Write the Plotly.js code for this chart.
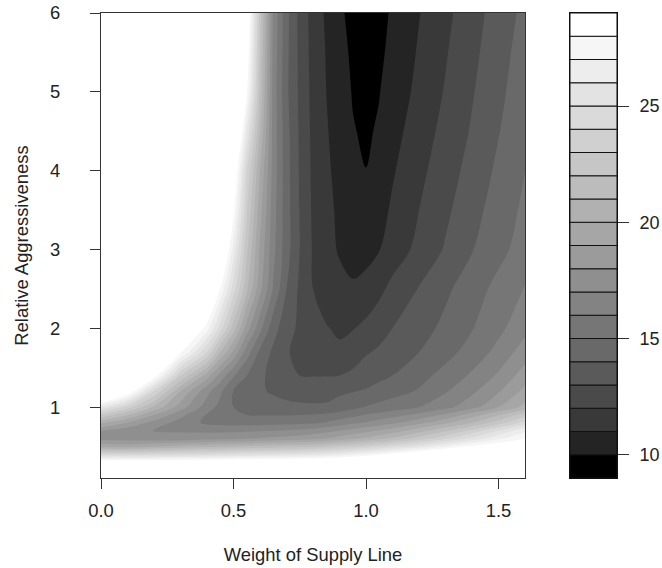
<!DOCTYPE html>
<html><head><meta charset="utf-8">
<script src="https://cdn.plot.ly/plotly-3.0.1.min.js"></script>
<style>html,body{margin:0;padding:0;background:#fff}</style>
</head><body>
<div id="chart" style="width:662px;height:568px"></div>
<script>
// Weight of Supply Line (x) and Relative Aggressiveness (y) grid
const weight = [0, 0.1, 0.2, 0.3, 0.4, 0.45, 0.5, 0.55, 0.6, 0.65, 0.7, 0.75, 0.8, 0.85, 0.9, 0.95, 1.0, 1.05, 1.1, 1.2, 1.3, 1.4, 1.5, 1.6];
const aggressiveness = [0.1, 0.2, 0.3, 0.4, 0.5, 0.6, 0.7, 0.8, 0.9, 1.0, 1.2, 1.4, 1.7, 2.0, 2.5, 3.0, 3.5, 4.0, 4.5, 5.0, 5.5, 6.0];
// values (one row per aggressiveness value)
const cost = [
  [40, 41, 41.5, 42, 42.5, 42.7, 43, 43, 43.2, 43.3, 43.5, 43.6, 43.8, 43.9, 44, 44.2, 44.5, 44.7, 45, 45.5, 46, 47, 48, 49],
  [35, 36, 36.2, 36.4, 36.6, 36.7, 36.8, 36.9, 37, 37.1, 37.2, 37.3, 37.4, 37.6, 37.8, 38, 38.3, 38.5, 38.8, 39.5, 40.3, 41.2, 42.2, 43],
  [29.1, 29.3, 29.3, 29.5, 29.6, 29.7, 29.8, 29.85, 29.9, 29.95, 30.0, 30.05, 30.1, 30.3, 30.7, 31.1, 31.6, 32.0, 32.6, 34, 35, 36, 37, 38],
  [24.1, 24.1, 24.2, 24.4, 24.6, 24.75, 24.9, 25.0, 25.1, 25.2, 25.3, 25.45, 25.6, 25.9, 26.3, 26.7, 27.2, 27.8, 28.5, 29.6, 30.8, 32, 33, 34],
  [19.7, 19.5, 20.0, 20.4, 20.7, 20.85, 21.0, 21.15, 21.3, 21.45, 21.6, 21.75, 21.9, 22.2, 22.6, 23.0, 23.4, 23.9, 24.5, 25.6, 27.0, 28.3, 29.1, 29.8],
  [17.6, 17.5, 17.4, 17.4, 17.6, 17.7, 17.8, 17.95, 18.1, 18.25, 18.4, 18.55, 18.7, 19.0, 19.4, 19.8, 20.2, 20.7, 21.2, 22.4, 23.8, 25.3, 26.8, 27.9],
  [18, 17.4, 16.95, 16.9, 16.8, 16.8, 16.8, 16.85, 16.9, 17, 17.1, 17.2, 17.4, 17.7, 18, 18.35, 18.7, 19.1, 19.5, 20.6, 21.8, 23.3, 25, 26.8],
  [20.2, 18.9, 17.6, 16.6, 15.8, 15.7, 15.6, 15.6, 15.6, 15.65, 15.7, 15.8, 15.85, 16.1, 16.5, 16.8, 17.1, 17.45, 17.8, 18.7, 19.8, 21, 22.5, 24.4],
  [22.8, 21, 19, 17.3, 15.9, 15.4, 15.1, 15, 14.95, 14.95, 14.95, 15, 15.05, 15.2, 15.4, 15.7, 16.05, 16.3, 16.6, 17.3, 18.2, 19.5, 20.9, 22.6],
  [26, 23.5, 20.8, 18.5, 16.5, 15.7, 15, 14.7, 14.5, 14.3, 14.15, 14.1, 14.08, 14.1, 14.45, 14.75, 15.05, 15.3, 15.5, 16, 16.7, 17.6, 19, 20.3],
  [33, 29.3, 24, 20, 17.3, 16.2, 14.95, 14.5, 14.1, 13.9, 13.8, 13.75, 13.75, 13.75, 13.8, 13.95, 14.1, 14.35, 14.6, 15.1, 15.9, 16.8, 17.9, 19.3],
  [41, 35, 28.8, 23, 19.5, 17.6, 16.1, 15.0, 14.2, 13.7, 13.3, 13.0, 12.95, 12.95, 13.0, 13.2, 13.5, 13.75, 14.0, 14.65, 15.35, 16.15, 17.15, 18.5],
  [52, 44, 34, 28.3, 24, 21, 18.8, 16.5, 14.8, 13.8, 13.1, 12.7, 12.45, 12.25, 12.15, 12.5, 12.9, 13.15, 13.45, 14.0, 14.65, 15.4, 16.3, 17.5],
  [57, 50, 40, 31.3, 27.5, 24.5, 21.5, 18.5, 16.3, 14.4, 13.4, 12.8, 12.3, 12.05, 11.87, 11.95, 12.25, 12.6, 13.0, 13.6, 14.25, 14.95, 15.75, 16.7],
  [63, 56, 48, 40, 31.5, 28, 24.5, 21.2, 18.3, 15.9, 14.0, 12.8, 12.0, 11.6, 11.3, 11.12, 11.3, 11.75, 12.3, 13.05, 13.8, 14.55, 15.3, 16.07],
  [68, 60, 52, 45, 36, 31, 26.5, 22.2, 18.8, 16.3, 14.4, 13.0, 11.9, 11.35, 10.9, 10.65, 10.7, 10.97, 11.4, 12.3, 13.1, 13.95, 14.7, 15.45],
  [71, 63, 55, 48, 39, 33.5, 28.3, 23.1, 19.4, 16.45, 14.4, 12.95, 11.85, 11.3, 10.8, 10.45, 10.35, 10.65, 11.15, 12.0, 12.8, 13.65, 14.45, 15.2],
  [74, 66, 58, 51, 42, 36, 29.7, 24, 20, 16.6, 14.4, 12.9, 11.8, 11.2, 10.65, 10.2, 10.01, 10.35, 10.9, 11.75, 12.55, 13.35, 14.2, 15.0],
  [76, 68, 61, 54, 45, 39, 32, 26, 21, 16.6, 14.35, 12.85, 11.75, 11.1, 10.5, 10.05, 9.88, 10.1, 10.65, 11.5, 12.3, 13.1, 13.95, 14.8],
  [78, 70, 63, 56, 47, 40, 35, 28.2, 21.8, 16.6, 14.2, 12.8, 11.7, 11.0, 10.4, 9.95, 9.72, 9.97, 10.4, 11.27, 12.08, 12.92, 13.75, 14.63],
  [79, 72, 65, 58, 49, 42, 36, 29.1, 22.2, 16.7, 14.25, 12.75, 11.65, 10.95, 10.3, 9.85, 9.55, 9.8, 10.28, 11.1, 11.92, 12.75, 13.6, 14.45],
  [80, 73, 67, 60, 50, 43, 37, 29.8, 22.5, 16.8, 14.3, 12.7, 11.6, 10.85, 10.18, 9.7, 9.45, 9.65, 10.15, 10.96, 11.76, 12.58, 13.45, 14.25]
];
// contour levels and band colours (dark to light)
const levels = [9, 10, 11, 12, 13, 14, 15, 16, 17, 18, 19, 20, 21, 22, 23, 24, 25, 26, 27, 28, 29];
const bandColors = ['#000000', '#242424', '#393939', '#4a4a4a', '#5a5a5a', '#696969', '#767676', '#838383', '#8f8f8f', '#9b9b9b',
                    '#a6a6a6', '#b1b1b1', '#bcbcbc', '#c6c6c6', '#d0d0d0', '#dadada', '#e3e3e3', '#ededed', '#f6f6f6', '#ffffff'];
const xTickVals = [0, 0.5, 1.0, 1.5];
const xTickText = ['0.0', '0.5', '1.0', '1.5'];
const yTickVals = [1, 2, 3, 4, 5, 6];
const keyTickVals = [10, 15, 20, 25];

// stepwise colour scale, one step per band
const nB = bandColors.length;
const scale = [[0, bandColors[0]]];
for (let k = 1; k < nB; k++) {
  const b = ((k - 0.5) / (nB - 1) + (k + 0.5) / nB) / 2;
  scale.push([b, bandColors[k - 1]]);
  scale.push([b, bandColors[k]]);
}
scale.push([1, bandColors[nB - 1]]);

const bandLow = levels.slice(0, -1);
const bandHeight = bandLow.map((v, i) => levels[i + 1] - v);

const font = {family: 'Liberation Sans, Arial, sans-serif', size: 18.4, color: '#222'};
const keyFont = {family: 'Liberation Sans, Arial, sans-serif', size: 18, color: '#222'};

const traces = [
  {
    type: 'contour', x: weight, y: aggressiveness, z: cost,
    colorscale: scale, showscale: false,
    contours: {start: levels[1], end: levels[levels.length - 2], size: 1, coloring: 'fill', showlines: false},
    line: {width: 0, smoothing: 1},
    hoverinfo: 'skip'
  },
  {
    type: 'bar', x: bandLow.map(() => 0), y: bandHeight, base: bandLow, width: 1,
    marker: {color: bandColors, line: {color: '#111', width: 1}},
    xaxis: 'x2', yaxis: 'y2', showlegend: false, hoverinfo: 'skip'
  }
];

const layout = {
  width: 662, height: 568,
  margin: {l: 101, r: 45, t: 13, b: 90},
  paper_bgcolor: '#fff', plot_bgcolor: '#fff',
  font: font, showlegend: false,
  xaxis: {
    domain: [0, 0.82171], range: [0, 1.6], anchor: 'y',
    tickvals: xTickVals, ticktext: xTickText, ticks: 'outside', ticklen: 10, tickcolor: '#333',
    ticklabelstandoff: 6,
    showline: true, mirror: true, linecolor: '#333', linewidth: 1,
    showgrid: false, zeroline: false,
    title: {text: 'Weight of Supply Line', font: font, standoff: 28}
  },
  yaxis: {
    domain: [0, 1], range: [0.1, 6], anchor: 'x',
    tickvals: yTickVals, ticks: 'outside', ticklen: 10, tickcolor: '#333',
    ticklabelstandoff: 26,
    showline: true, mirror: true, linecolor: '#333', linewidth: 1,
    showgrid: false, zeroline: false,
    title: {text: 'Relative Aggressiveness', font: font, standoff: 16}
  },
  xaxis2: {
    domain: [0.90891, 1], range: [-0.5, 0.5], anchor: 'y2',
    showticklabels: false, ticks: '', showgrid: false, zeroline: false,
    showline: true, mirror: true, linecolor: '#111', linewidth: 1, fixedrange: true
  },
  yaxis2: {
    domain: [0, 1], range: [9, 29], anchor: 'x2', side: 'right',
    tickvals: keyTickVals, ticks: 'outside', ticklen: 11, tickcolor: '#333',
    ticklabelstandoff: 7, tickfont: keyFont,
    showline: true, mirror: true, linecolor: '#111', linewidth: 1,
    showgrid: false, zeroline: false
  }
};

Plotly.newPlot('chart', traces, layout, {staticPlot: true, displayModeBar: false});
</script>
</body></html>
